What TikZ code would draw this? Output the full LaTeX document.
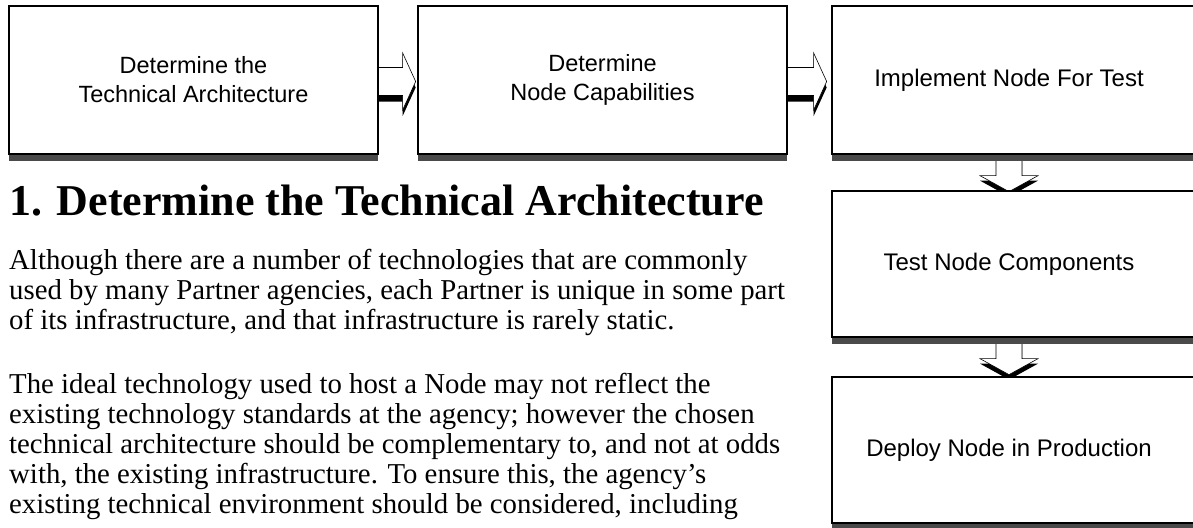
\documentclass[tikz,border=0pt]{standalone}
\usepackage{fontspec}
\setmainfont{Liberation Serif}
\newfontfamily\boxfont{Liberation Sans}
\usetikzlibrary{shadows}
\pgfdeclarelayer{background}
\pgfsetlayers{background,main}
\definecolor{shadowgray}{HTML}{4A4A4A}

% horizontal block arrow leaving a box edge, with a dark shadow below
\newcommand\hblock[2]{%
  \begin{scope}[shift={(#1)}]
    \fill[black] (0,-14+6) -- (#2,-14+6) -- (#2,-28.5+6) -- (#2+13,6) -- (#2,28.5+6) -- (#2,14+6) -- (0,14+6) -- cycle;
    \filldraw[fill=white, draw=black, line width=0.6pt] (0,-14) -- (#2,-14) -- (#2,-28.5) -- (#2+13,0) -- (#2,28.5) -- (#2,14) -- (0,14) -- cycle;
  \end{scope}}
% vertical block arrow leaving a box bottom, with a dark shadow below
\newcommand\vblock[1]{%
  \begin{scope}[shift={(#1)}]
    \fill[black] (-13,5) -- (13,5) -- (13,21+5) -- (29,21+5) -- (0,37+5) -- (-29,21+5) -- (-13,21+5) -- cycle;
    \filldraw[fill=white, draw=black, line width=0.6pt] (-13,0) -- (13,0) -- (13,21) -- (29,21) -- (0,37) -- (-29,21) -- (-13,21) -- cycle;
  \end{scope}}

\begin{document}
\begin{tikzpicture}[x=1pt, y=-1pt,
  stagebox/.style={draw=black, line width=1.3pt, fill=white,
    minimum width=369pt, minimum height=#1, inner sep=0pt,
    font=\boxfont\fontsize{23.5}{29}\selectfont, align=center,
    drop shadow={shadow xshift=0pt, shadow yshift=-7pt, fill=shadowgray, opacity=1}},
  stagebox/.default=148pt,
  boxlabel/.style={inner sep=0pt, font=\boxfont\fontsize{24}{29}\selectfont},
  heading/.style={anchor=base west, inner sep=0pt, font=\fontsize{44}{44}\selectfont\bfseries},
  bodyline/.style={anchor=base west, inner sep=0pt, font=\fontsize{28.8}{30}\selectfont}]
\useasboundingbox (0,0) rectangle (1193,527);

% process stages
\node[stagebox] (b1) at (193.5,80) {Determine the\\Technical Architecture};
\node[stagebox] (b2) at (602.5,80) {Determine\\Node Capabilities};
\node[stagebox] (b3) at (1016.5,80) {};
\node[stagebox=146pt] (b4) at (1016.5,264) {};
\node[stagebox=146pt] (b5) at (1016.5,450) {};
\node[boxlabel] (t3) at ([xshift=-7.5pt]b3.center) {Implement Node For Test};
\node[boxlabel] (t4) at ([xshift=-7.5pt]b4.center) {Test Node Components};
\node[boxlabel] (t5) at ([xshift=-7.5pt]b5.center) {Deploy Node in Production};

% connectors between stages
\begin{pgfonlayer}{background}
  \hblock{[yshift=-1.5pt]b1.east}{24}
  \hblock{[yshift=-1.5pt]b2.east}{26}
  \vblock{[xshift=-7.5pt]b3.south}
  \vblock{[xshift=-7.5pt]b4.south}
\end{pgfonlayer}

% section text
\node[heading] (h1) at (9,215) {1. Determine the Technical Architecture};
\node[bodyline] (l1) at (9,269) {Although there are a number of technologies that are commonly};
\node[bodyline] (l2) at (9,299) {used by many Partner agencies, each Partner is unique in some part};
\node[bodyline] (l3) at (9,329) {of its infrastructure, and that infrastructure is rarely static.};
\node[bodyline] (l4) at (9,393) {The ideal technology used to host a Node may not reflect the};
\node[bodyline] (l5) at (9,423) {existing technology standards at the agency; however the chosen};
\node[bodyline] (l6) at (9,453) {technical architecture should be complementary to, and not at odds};
\node[bodyline] (l7) at (9,483) {with, the existing infrastructure. To ensure this, the agency’s};
\node[bodyline] (l8) at (9,513) {existing technical environment should be considered, including};
\end{tikzpicture}
\end{document}
